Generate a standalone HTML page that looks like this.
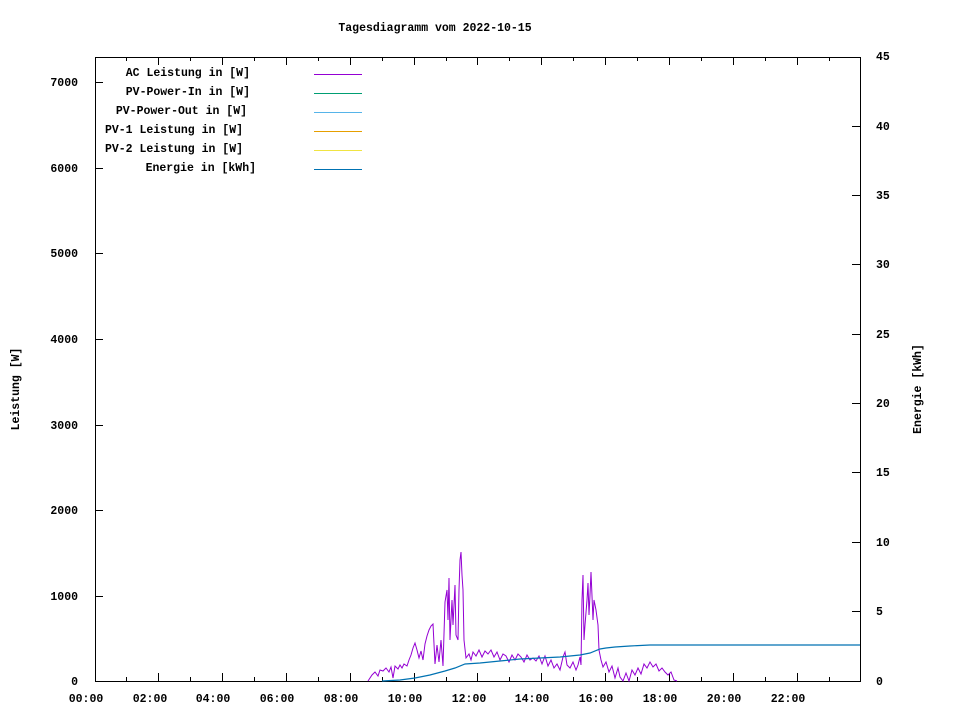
<!DOCTYPE html>
<html><head><meta charset="utf-8"><style>
body{margin:0;background:#fff}
svg text{font-family:"Liberation Mono","DejaVu Sans Mono",monospace;font-weight:bold;font-size:11.5px;fill:#000}
</style></head><body>
<svg width="960" height="720" xmlns="http://www.w3.org/2000/svg">
<rect width="960" height="720" fill="#fff"/>
<text x="435" y="31" text-anchor="middle">Tagesdiagramm vom 2022-10-15</text>
<g stroke="#000" stroke-width="1" fill="none">
<rect x="95.5" y="57.5" width="765" height="624"/>
<path d="M95 596.5h8M95 510.5h8M95 425.5h8M95 339.5h8M95 253.5h8M95 168.5h8M95 82.5h8"/>
<path d="M860 611.5h-8M860 542.5h-8M860 472.5h-8M860 403.5h-8M860 334.5h-8M860 264.5h-8M860 195.5h-8M860 126.5h-8"/>
<path d="M158.5 681v-8M222.5 681v-8M286.5 681v-8M350.5 681v-8M414.5 681v-8M477.5 681v-8M541.5 681v-8M605.5 681v-8M669.5 681v-8M733.5 681v-8M797.5 681v-8"/>
<path d="M126.5 681v-4M190.5 681v-4M254.5 681v-4M318.5 681v-4M382.5 681v-4M446.5 681v-4M509.5 681v-4M573.5 681v-4M637.5 681v-4M701.5 681v-4M765.5 681v-4M829.5 681v-4"/>
<path d="M158.5 57v8M222.5 57v8M286.5 57v8M350.5 57v8M414.5 57v8M477.5 57v8M541.5 57v8M605.5 57v8M669.5 57v8M733.5 57v8M797.5 57v8"/>
<path d="M126.5 57v4M190.5 57v4M254.5 57v4M318.5 57v4M382.5 57v4M446.5 57v4M509.5 57v4M573.5 57v4M637.5 57v4M701.5 57v4M765.5 57v4M829.5 57v4"/>
</g>
<g text-anchor="end">
<text x="78" y="685">0</text><text x="78" y="600">1000</text><text x="78" y="514">2000</text><text x="78" y="429">3000</text><text x="78" y="343">4000</text><text x="78" y="257">5000</text><text x="78" y="172">6000</text><text x="78" y="86">7000</text>
</g>
<g>
<text x="876" y="685">0</text><text x="876" y="615">5</text><text x="876" y="546">10</text><text x="876" y="476">15</text><text x="876" y="407">20</text><text x="876" y="338">25</text><text x="876" y="268">30</text><text x="876" y="199">35</text><text x="876" y="130">40</text><text x="876" y="60">45</text>
</g>
<g text-anchor="middle">
<text x="86" y="702">00:00</text><text x="150" y="702">02:00</text><text x="213" y="702">04:00</text><text x="277" y="702">06:00</text><text x="341" y="702">08:00</text><text x="405" y="702">10:00</text><text x="469" y="702">12:00</text><text x="532" y="702">14:00</text><text x="596" y="702">16:00</text><text x="660" y="702">18:00</text><text x="724" y="702">20:00</text><text x="788" y="702">22:00</text>
</g>
<text transform="translate(19,389) rotate(-90)" text-anchor="middle">Leistung [W]</text>
<text transform="translate(921,389) rotate(-90)" text-anchor="middle">Energie [kWh]</text>
<g text-anchor="end">
<text x="250" y="76">AC Leistung in [W]</text>
<text x="250" y="95">PV-Power-In in [W]</text>
<text x="247" y="114">PV-Power-Out in [W]</text>
<text x="243" y="133">PV-1 Leistung in [W]</text>
<text x="243" y="152">PV-2 Leistung in [W]</text>
<text x="256" y="171">Energie in [kWh]</text>
</g>
<g stroke-width="1">
<path d="M314 74.5h48" stroke="#9400d3"/>
<path d="M314 93.5h48" stroke="#009e73"/>
<path d="M314 112.5h48" stroke="#56b4e9"/>
<path d="M314 131.5h48" stroke="#e69f00"/>
<path d="M314 150.5h48" stroke="#f0e442"/>
<path d="M314 169.5h48" stroke="#0072b2"/>
</g>
<polyline fill="none" stroke="#9400d3" stroke-width="1" points="368,681 372,675 375,672 378,676 380,670 383,671 386,668 389,672 391,667 393,678 395,666 398,669 400,665 402,668 404,664 407,666 409,660 411,655 413,648 415,643 417,650 419,658 421,651 423,660 425,644 427,636 429,630 431,626 433,624 435,664 437,645 439,662 441,640 443,666 445,602 447,590 448,620 449,578 450,640 452,600 453,625 455,585 456,635 458,640 459,590 460,560 461,552 462,575 463,590 464,640 466,658 469,654 471,660 473,652 476,656 479,650 482,657 485,651 488,654 491,650 494,657 497,652 500,660 503,654 506,656 509,662 512,655 515,660 518,654 521,657 524,662 527,655 530,660 533,658 536,661 539,656 542,664 545,656 548,666 551,660 554,668 557,664 560,670 563,657 565,652 567,665 570,668 573,662 576,670 578,665 580,657 581,665 582,600 583,575 584,640 585,625 587,600 588,583 589,615 590,595 591,572 593,620 594,600 596,610 598,625 599,650 601,660 603,667 606,662 609,672 612,666 615,678 618,668 620,677 623,681 626,673 629,681 632,670 635,675 638,668 641,674 644,664 647,668 650,662 653,667 656,664 659,671 662,668 665,672 668,675 671,672 674,680 677,681"/>
<polyline fill="none" stroke="#0072b2" stroke-width="1.2" points="382,681 400,680 415,678 430,675 445,671 455,668 465,664 480,663 500,661 520,659 540,658 560,657 580,655 590,653 600,649 606,648 615,647 630,646 650,645 660,645 860,645"/>
</svg>
</body></html>
